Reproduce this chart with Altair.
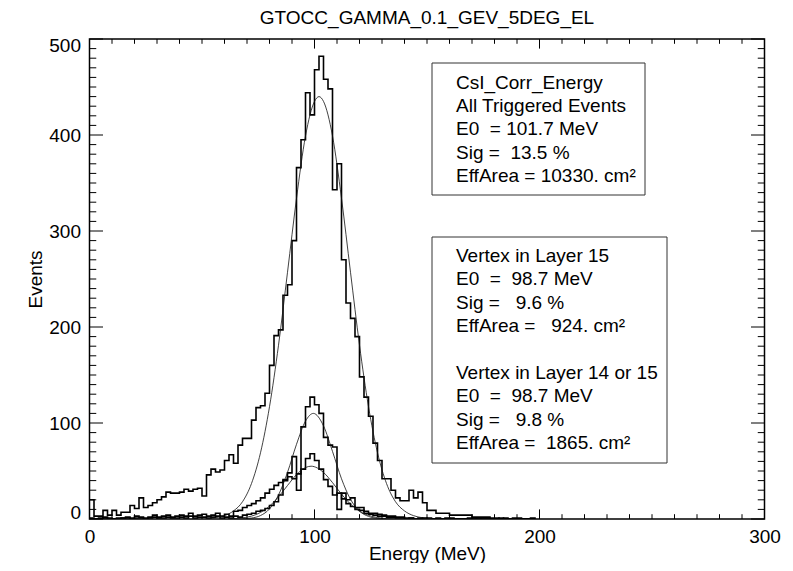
import altair as alt
import pandas as pd

# ---------------- data ----------------
BIN_WIDTH = 2  # MeV, histogram bins start at 0

# All triggered events (counts per 2 MeV bin, starting at 0 MeV)
COUNTS_ALL = [
    20, 3, 3, 9, 4, 9, 4, 7, 7, 14,
    11, 22, 12, 14, 17, 20, 23, 28, 27, 27,
    28, 31, 29, 31, 32, 24, 46, 52, 49, 51,
    61, 67, 58, 77, 84, 84, 103, 116, 118, 131,
    160, 191, 197, 233, 244, 290, 366, 395, 444, 421,
    468, 482, 458, 448, 343, 370, 270, 225, 209, 190,
    148, 127, 107, 79, 61, 42, 42, 30, 22, 19,
    19, 30, 22, 28, 17, 9, 9, 6, 6, 6,
    4, 4, 4, 4, 4, 2, 2, 2, 2, 1,
    1, 0, 1, 0, 1, 1, 0, 0, 1, 0,
]

# Vertex in layer 14 or 15
COUNTS_L1415 = [
    1, 0, 1, 2, 1, 0, 1, 1, 2, 1, 3, 2, 1, 2, 4, 2, 3, 4, 2, 3, 4, 3, 6, 3, 4, 5, 3, 4, 6,
    3, 5, 3, 8, 9, 12, 14, 16, 19, 22, 27, 31, 35, 38, 41, 48, 65, 30, 96, 117,
    127, 119, 110, 85, 77, 75, 10, 27, 20, 22, 12, 12, 8, 6, 6, 5, 4, 3, 3, 2,
    2, 1, 1, 0, 1, 0, 1,
    0, 1, 0, 0, 1, 0, 0, 0, 1, 0, 0, 0, 0, 0, 0, 1, 0, 0, 0, 0, 0, 0, 0, 0,
]

# Vertex in layer 15
COUNTS_L15 = [
    0, 0, 0, 1, 0, 0, 0, 1, 1, 0, 1, 1, 0, 1, 2, 1, 1, 2, 1, 1, 2, 1, 3, 1, 2, 2, 1, 2, 3,
    1, 2, 1, 3, 2, 4, 5, 6, 8, 9, 11, 14, 18, 25, 40, 44, 42, 47, 52, 63,
    68, 61, 52, 41, 34, 25, 27, 21, 16, 13, 10, 9, 6, 5, 4, 3, 3, 2, 2, 1,
    1, 0, 1, 0, 0, 1, 0,
    0, 0, 0, 1, 0, 0, 0, 0, 0, 0, 1, 0, 0, 0, 0, 0, 0, 0, 0, 0, 0, 0, 0, 0,
]

# Fitted curves (energy, events)
FIT_ALL_E = [52, 56, 60, 64, 68, 72, 76, 80, 84, 88, 92, 96, 100, 102, 104, 108, 112,
             116, 120, 124, 128, 132, 136, 140, 144, 148, 152]
FIT_ALL_V = [0.5, 1.3, 3.5, 8.4, 18, 37, 69, 117, 181, 257, 334, 399, 435, 440, 435, 399,
             334, 257, 181, 117, 69, 37, 18, 8.4, 3.5, 1.3, 0.5]

FIT_L1415_E = [68, 72, 76, 80, 84, 88, 92, 96, 99.5, 104, 108, 112, 116, 120, 124, 128, 132]
FIT_L1415_V = [0.2, 1.0, 3.6, 10.5, 25, 48.6, 77.8, 102, 110, 97, 70.4, 41.9, 20.5, 8.2,
               2.7, 0.7, 0.2]

FIT_L15_E = [64, 68, 72, 76, 80, 84, 88, 92, 96, 98.5, 104, 108, 112, 116, 120, 124, 128,
             132, 136]
FIT_L15_V = [0.4, 1.2, 3.0, 6.8, 13.4, 23.1, 34.9, 46.2, 53.6, 55, 48.5, 37.9, 25.9, 15.5,
             8.1, 3.8, 1.5, 0.5, 0.15]

X_LABELS = [0, 100, 200, 300]
Y_LABELS = [0, 100, 200, 300, 400, 500]
X_MINOR_STEP = 10
Y_MINOR_STEP = 10

TITLE = "GTOCC_GAMMA_0.1_GEV_5DEG_EL"
NB = "\u00a0"
BOX1_LINES = [
    "CsI_Corr_Energy",
    "All Triggered Events",
    f"E0{NB}{NB}= 101.7 MeV",
    f"Sig ={NB}{NB}13.5 %",
    "EffArea = 10330. cm\u00b2",
]
BOX2A_LINES = [
    "Vertex in Layer 15",
    f"E0{NB}{NB}={NB}{NB}98.7 MeV",
    f"Sig ={NB}{NB}{NB}9.6 %",
    f"EffArea ={NB}{NB}{NB}924. cm\u00b2",
]
BOX2B_LINES = [
    "Vertex in Layer 14 or 15",
    f"E0{NB}{NB}={NB}{NB}98.7 MeV",
    f"Sig ={NB}{NB}{NB}9.8 %",
    f"EffArea ={NB}{NB}1865. cm\u00b2",
]

# ---------------- tables ----------------
rows = []
for name, counts in [("all", COUNTS_ALL), ("l1415", COUNTS_L1415), ("l15", COUNTS_L15)]:
    for i, c in enumerate(counts):
        rows.append({"series": name, "E": i * BIN_WIDTH, "count": c})
df_hist = pd.DataFrame(rows)

fit_rows = []
for name, es, vs in [("all", FIT_ALL_E, FIT_ALL_V), ("l1415", FIT_L1415_E, FIT_L1415_V),
                     ("l15", FIT_L15_E, FIT_L15_V)]:
    for e, v in zip(es, vs):
        fit_rows.append({"series": name, "E": e, "v": v})
df_fit = pd.DataFrame(fit_rows)

x_minor = [v for v in range(0, 301, X_MINOR_STEP) if v not in X_LABELS]
y_minor = [v for v in range(0, 501, Y_MINOR_STEP) if v not in Y_LABELS]
df_xmaj = pd.DataFrame({"t": X_LABELS})
df_xmin = pd.DataFrame({"t": x_minor})
df_ymaj = pd.DataFrame({"t": Y_LABELS})
df_ymin = pd.DataFrame({"t": y_minor})
one = pd.DataFrame({"a": [0]})

# ---------------- layout ----------------
W, H = 675, 480
FONT = "Liberation Sans"
FS = 19
LH = 23.45

xs = alt.Scale(domain=[0, 300], nice=False)
ys = alt.Scale(domain=[0, 500], nice=False)
xaxis = alt.Axis(values=X_LABELS, ticks=False, domain=False, grid=False, labelFlush=False,
                 labelPadding=8, labelFontSize=FS, labelFont=FONT, labelColor="black",
                 title="Energy (MeV)", titleFontSize=FS, titleFont=FONT,
                 titleFontWeight="normal", titleColor="black", titlePadding=-2, format="d")
yaxis = alt.Axis(values=Y_LABELS, ticks=False, domain=False, grid=False, labelFlush=True,
                 labelFlushOffset=3, labelPadding=9, labelFontSize=FS, labelFont=FONT,
                 labelColor="black", title="Events", titleFontSize=FS, titleFont=FONT,
                 titleFontWeight="normal", titleColor="black", titlePadding=3, format="d")


def X(field):
    return alt.X(field, type="quantitative", scale=xs, axis=xaxis)


def Y(field):
    return alt.Y(field, type="quantitative", scale=ys, axis=yaxis)


hist = alt.Chart(df_hist).mark_line(
    interpolate="step-after", color="black", strokeWidth=1.6, clip=True
).encode(x=X("E"), y=Y("count"), detail="series:N")

fit = alt.Chart(df_fit).mark_line(
    interpolate="monotone", color="#111111", strokeWidth=0.8, clip=True
).encode(x=X("E"), y=Y("v"), detail="series:N")

XMAJ, YMAJ = 9.6, 13.5
tick_style = dict(color="black", strokeWidth=1)
xt_bot_maj = alt.Chart(df_xmaj).mark_rule(**tick_style).encode(
    x=X("t"), y=alt.value(H), y2=alt.value(H - XMAJ))
xt_top_maj = alt.Chart(df_xmaj).mark_rule(**tick_style).encode(
    x=X("t"), y=alt.value(0), y2=alt.value(XMAJ))
xt_bot_min = alt.Chart(df_xmin).mark_rule(**tick_style).encode(
    x=X("t"), y=alt.value(H), y2=alt.value(H - XMAJ / 2))
xt_top_min = alt.Chart(df_xmin).mark_rule(**tick_style).encode(
    x=X("t"), y=alt.value(0), y2=alt.value(XMAJ / 2))
yt_l_maj = alt.Chart(df_ymaj).mark_rule(**tick_style).encode(
    y=Y("t"), x=alt.value(0), x2=alt.value(YMAJ))
yt_r_maj = alt.Chart(df_ymaj).mark_rule(**tick_style).encode(
    y=Y("t"), x=alt.value(W), x2=alt.value(W - YMAJ))
yt_l_min = alt.Chart(df_ymin).mark_rule(**tick_style).encode(
    y=Y("t"), x=alt.value(0), x2=alt.value(YMAJ / 2))
yt_r_min = alt.Chart(df_ymin).mark_rule(**tick_style).encode(
    y=Y("t"), x=alt.value(W), x2=alt.value(W - YMAJ / 2))

box_style = dict(filled=False, stroke="#333333", strokeWidth=1)
box1 = alt.Chart(one).mark_rect(**box_style).encode(
    x=alt.value(342.5), x2=alt.value(555.5), y=alt.value(24), y2=alt.value(156))
box2 = alt.Chart(one).mark_rect(**box_style).encode(
    x=alt.value(342.5), x2=alt.value(577.5), y=alt.value(198), y2=alt.value(424))

text_style = dict(align="left", baseline="top", fontSize=FS, font=FONT, color="black",
                  lineHeight=LH)
txt1 = alt.Chart(one).mark_text(text=BOX1_LINES, **text_style).encode(
    x=alt.value(366.5), y=alt.value(34.5))
txt2a = alt.Chart(one).mark_text(text=BOX2A_LINES, **text_style).encode(
    x=alt.value(366.5), y=alt.value(207.8))
txt2b = alt.Chart(one).mark_text(text=BOX2B_LINES, **text_style).encode(
    x=alt.value(366.5), y=alt.value(207.8 + 5 * LH))

chart = alt.layer(
    hist, fit, xt_bot_maj, xt_top_maj, xt_bot_min, xt_top_min,
    yt_l_maj, yt_r_maj, yt_l_min, yt_r_min, box1, box2, txt1, txt2a, txt2b
).properties(
    width=W, height=H,
    background="white",
    title=alt.TitleParams(TITLE, fontSize=FS, font=FONT, fontWeight="normal", color="black",
                          anchor="middle", offset=8),
    padding={"left": 81.5, "top": 31, "right": 20.5, "bottom": 44},
    autosize=alt.AutoSizeParams(type="none"),
).configure_view(
    stroke="black", strokeWidth=1.5
).configure_axis(
    labelFont=FONT, titleFont=FONT, labelColor="black", titleColor="black",
    titleFontWeight="normal"
)

chart.save("out.html", embed_options={"renderer": "svg", "actions": False})
